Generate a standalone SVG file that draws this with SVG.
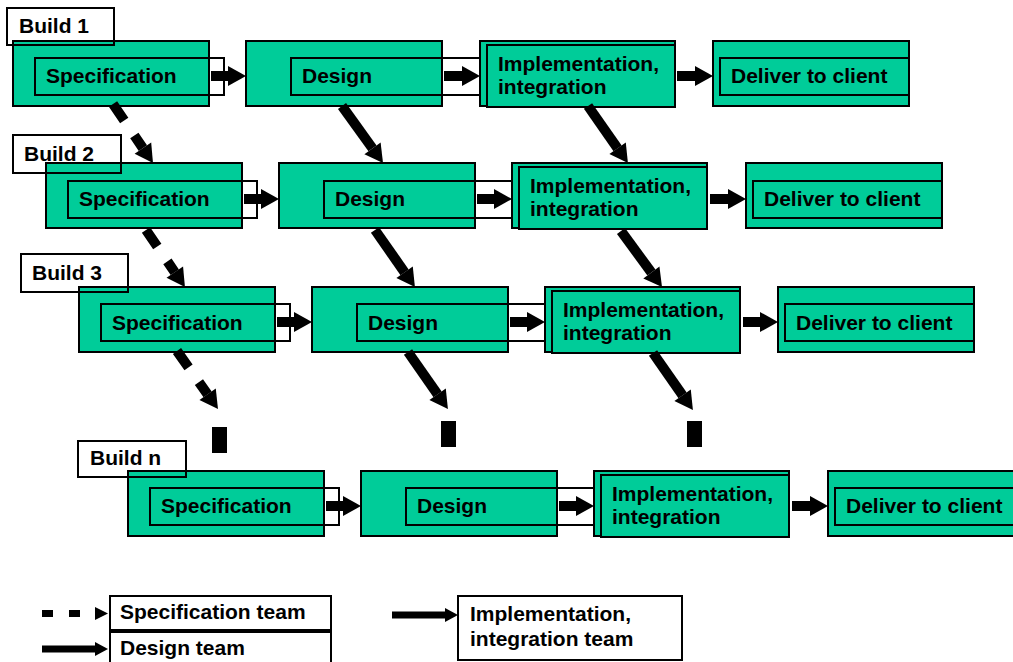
<svg xmlns="http://www.w3.org/2000/svg" width="1013" height="662" viewBox="0 0 1013 662">
<style>
.box{fill:#00CC99;stroke:#000;stroke-width:2}
.inner{fill:none;stroke:#000;stroke-width:2}
.lbl{fill:none;stroke:#000;stroke-width:2}
.leg{fill:#fff;stroke:#000;stroke-width:2}
.t{font-family:"Liberation Sans",Arial,Helvetica,sans-serif;font-weight:bold;font-size:21px;fill:#000}
.tl{font-family:"Liberation Sans",Arial,Helvetica,sans-serif;font-weight:bold;font-size:21px;fill:#000}
.a{stroke:#000;stroke-width:10;fill:none;marker-end:url(#head)}
.ad{stroke:#000;stroke-width:10;fill:none;stroke-dasharray:20 18;marker-end:url(#head)}
.la{stroke:#000;stroke-width:7;fill:none;marker-end:url(#shead)}
</style>
<defs>
<marker id="head" markerUnits="userSpaceOnUse" markerWidth="18" markerHeight="20" refX="0" refY="10" orient="auto" overflow="visible"><path d="M0,0 L18,10 L0,20 Z" fill="#000"/></marker>
<marker id="shead" markerUnits="userSpaceOnUse" markerWidth="13" markerHeight="14" refX="0" refY="7" orient="auto" overflow="visible"><path d="M0,0 L13,7 L0,14 Z" fill="#000"/></marker>
</defs>
<rect width="1013" height="662" fill="#fff"/>

<!-- Row 1 -->
<g id="spec1"><rect class="box" x="13" y="41" width="196" height="65"/><rect class="inner" x="35" y="58" width="189" height="37"/><text class="t" x="46" y="83">Specification</text></g>
<g id="design1"><rect class="box" x="246" y="41" width="196" height="65"/><rect class="inner" x="291" y="58" width="189" height="37"/><text class="t" x="302" y="83">Design</text></g>
<g id="impl1"><rect class="box" x="480" y="41" width="195" height="65"/><rect class="box" x="487" y="45" width="188" height="62"/><text class="t" x="498" y="71">Implementation,</text><text class="t" x="498" y="94">integration</text></g>
<g id="deliver1"><rect class="box" x="713" y="41" width="196" height="65"/><rect class="inner" x="720" y="58" width="189" height="37"/><text class="t" x="731" y="83">Deliver to client</text></g>

<!-- Row 2 -->
<g id="spec2"><rect class="box" x="46" y="163" width="196" height="65"/><rect class="inner" x="68" y="181" width="189" height="37"/><text class="t" x="79" y="206">Specification</text></g>
<g id="design2"><rect class="box" x="279" y="163" width="196" height="65"/><rect class="inner" x="324" y="181" width="189" height="37"/><text class="t" x="335" y="206">Design</text></g>
<g id="impl2"><rect class="box" x="512" y="163" width="195" height="65"/><rect class="box" x="519" y="167" width="188" height="62"/><text class="t" x="530" y="193">Implementation,</text><text class="t" x="530" y="216">integration</text></g>
<g id="deliver2"><rect class="box" x="746" y="163" width="196" height="65"/><rect class="inner" x="753" y="181" width="189" height="37"/><text class="t" x="764" y="206">Deliver to client</text></g>

<!-- Row 3 -->
<g id="spec3"><rect class="box" x="79" y="287" width="196" height="65"/><rect class="inner" x="101" y="304" width="189" height="37"/><text class="t" x="112" y="330">Specification</text></g>
<g id="design3"><rect class="box" x="312" y="287" width="196" height="65"/><rect class="inner" x="357" y="304" width="189" height="37"/><text class="t" x="368" y="330">Design</text></g>
<g id="impl3"><rect class="box" x="545" y="287" width="195" height="65"/><rect class="box" x="552" y="291" width="188" height="62"/><text class="t" x="563" y="317">Implementation,</text><text class="t" x="563" y="340">integration</text></g>
<g id="deliver3"><rect class="box" x="778" y="287" width="196" height="65"/><rect class="inner" x="785" y="304" width="189" height="37"/><text class="t" x="796" y="330">Deliver to client</text></g>

<!-- Row n -->
<g id="specn"><rect class="box" x="128" y="471" width="196" height="65"/><rect class="inner" x="150" y="488" width="189" height="37"/><text class="t" x="161" y="513">Specification</text></g>
<g id="designn"><rect class="box" x="361" y="471" width="196" height="65"/><rect class="inner" x="406" y="488" width="189" height="37"/><text class="t" x="417" y="513">Design</text></g>
<g id="impln"><rect class="box" x="594" y="471" width="195" height="65"/><rect class="box" x="601" y="475" width="188" height="62"/><text class="t" x="612" y="501">Implementation,</text><text class="t" x="612" y="524">integration</text></g>
<g id="delivern"><rect class="box" x="828" y="471" width="196" height="65"/><rect class="inner" x="835" y="488" width="189" height="37"/><text class="t" x="846" y="513">Deliver to client</text></g>

<!-- Build labels -->
<g id="build1"><rect class="lbl" x="7" y="8" width="107" height="37"/><text class="t" x="19" y="33">Build 1</text></g>
<g id="build2"><rect class="lbl" x="13" y="135" width="108" height="38"/><text class="t" x="24" y="161">Build 2</text></g>
<g id="build3"><rect class="lbl" x="21" y="254" width="107" height="38"/><text class="t" x="32" y="280">Build 3</text></g>
<g id="buildn"><rect class="lbl" x="78" y="441" width="108" height="36"/><text class="t" x="90" y="465">Build n</text></g>

<g id="connectors">
<line class="a" x1="211" y1="76" x2="228" y2="76"/>
<line class="a" x1="444" y1="76" x2="462" y2="76"/>
<line class="a" x1="677" y1="76" x2="695" y2="76"/>
<line class="a" x1="244" y1="199" x2="261" y2="199"/>
<line class="a" x1="477" y1="199" x2="494" y2="199"/>
<line class="a" x1="710" y1="199" x2="728" y2="199"/>
<line class="a" x1="277" y1="322" x2="294" y2="322"/>
<line class="a" x1="510" y1="322" x2="527" y2="322"/>
<line class="a" x1="743" y1="322" x2="760" y2="322"/>
<line class="a" x1="326" y1="506" x2="343" y2="506"/>
<line class="a" x1="559" y1="506" x2="576" y2="506"/>
<line class="a" x1="792" y1="506" x2="810" y2="506"/>
<line class="ad" x1="113" y1="104" x2="142.9" y2="148.1"/>
<line class="a" x1="342" y1="106" x2="372.5" y2="148.4"/>
<line class="a" x1="588" y1="106" x2="617.6" y2="148.3"/>
<line class="ad" x1="146" y1="230" x2="174.8" y2="272.2"/>
<line class="a" x1="375" y1="230" x2="404.6" y2="272.3"/>
<line class="a" x1="621" y1="231" x2="651.4" y2="272.5"/>
<line class="ad" x1="177" y1="351" x2="207.6" y2="394.3"/>
<line class="a" x1="408" y1="352" x2="437.6" y2="394.3"/>
<line class="a" x1="653" y1="353" x2="682.6" y2="395.3"/>
<rect x="212" y="427" width="15" height="26" fill="#000"/>
<rect x="441" y="421" width="15" height="26" fill="#000"/>
<rect x="687" y="421" width="15" height="26" fill="#000"/>
</g>

<!-- Legend -->
<g id="legend-spec"><rect class="leg" x="110" y="596" width="221" height="34"/><text class="tl" x="120" y="619">Specification team</text></g>
<g id="legend-design"><rect class="leg" x="110" y="632" width="221" height="40"/><text class="tl" x="120" y="655">Design team</text></g>
<g id="legend-impl"><rect class="leg" x="458" y="596" width="224" height="64"/><text class="tl" x="470" y="621">Implementation,</text><text class="tl" x="470" y="646">integration team</text></g>
<g id="legend-arrows">
<rect x="42" y="610" width="11" height="7" fill="#000"/>
<rect x="69" y="610" width="11" height="7" fill="#000"/>
<path d="M95,607 L108,613.5 L95,620 Z" fill="#000"/>
<line class="la" x1="42" y1="649" x2="95" y2="649"/>
<line class="la" x1="392" y1="615" x2="445" y2="615"/>
</g>
</svg>
